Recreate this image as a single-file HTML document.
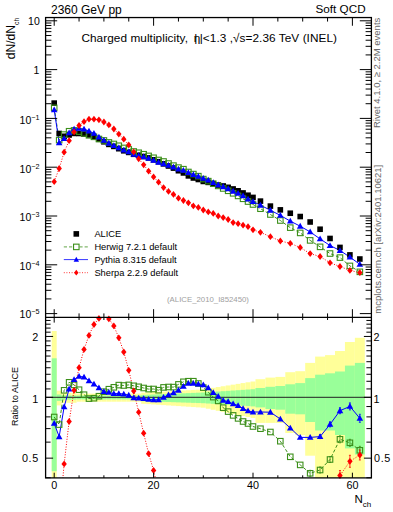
<!DOCTYPE html><html><head><meta charset="utf-8"><style>html,body{margin:0;padding:0;background:#fff;}svg{display:block;}text{font-family:"Liberation Sans",sans-serif;}</style></head><body>
<svg width="393" height="512" viewBox="0 0 393 512">
<defs><clipPath id="cm"><rect x="45.6" y="17.55" width="325.79999999999995" height="299.84999999999997"/></clipPath><clipPath id="cr"><rect x="45.6" y="317.4" width="325.79999999999995" height="160.5"/></clipPath></defs>
<g clip-path="url(#cr)">
<rect x="51.72" y="331.00" width="4.97" height="159.00" fill="#ffff99"/>
<rect x="56.69" y="390.70" width="4.97" height="14.70" fill="#ffff99"/>
<rect x="61.66" y="392.90" width="4.97" height="9.90" fill="#ffff99"/>
<rect x="66.62" y="392.90" width="4.97" height="9.90" fill="#ffff99"/>
<rect x="71.59" y="392.90" width="4.97" height="9.90" fill="#ffff99"/>
<rect x="76.56" y="393.60" width="4.97" height="8.10" fill="#ffff99"/>
<rect x="81.53" y="393.60" width="4.97" height="8.10" fill="#ffff99"/>
<rect x="86.50" y="393.60" width="4.97" height="8.10" fill="#ffff99"/>
<rect x="91.47" y="393.60" width="4.97" height="8.10" fill="#ffff99"/>
<rect x="96.44" y="393.60" width="4.97" height="8.10" fill="#ffff99"/>
<rect x="101.41" y="393.60" width="4.97" height="8.10" fill="#ffff99"/>
<rect x="106.38" y="393.60" width="4.97" height="8.10" fill="#ffff99"/>
<rect x="111.35" y="393.60" width="4.97" height="8.10" fill="#ffff99"/>
<rect x="116.33" y="393.60" width="4.97" height="8.10" fill="#ffff99"/>
<rect x="121.30" y="393.60" width="4.97" height="8.10" fill="#ffff99"/>
<rect x="126.27" y="393.60" width="4.97" height="8.10" fill="#ffff99"/>
<rect x="131.24" y="393.60" width="4.97" height="8.10" fill="#ffff99"/>
<rect x="136.20" y="393.60" width="4.97" height="8.10" fill="#ffff99"/>
<rect x="141.18" y="392.60" width="4.97" height="11.20" fill="#ffff99"/>
<rect x="146.14" y="392.33" width="4.97" height="11.79" fill="#ffff99"/>
<rect x="151.12" y="392.07" width="4.97" height="12.38" fill="#ffff99"/>
<rect x="156.08" y="391.80" width="4.97" height="12.97" fill="#ffff99"/>
<rect x="161.06" y="391.53" width="4.97" height="13.57" fill="#ffff99"/>
<rect x="166.02" y="391.27" width="4.97" height="14.16" fill="#ffff99"/>
<rect x="171.00" y="391.00" width="4.97" height="14.75" fill="#ffff99"/>
<rect x="175.97" y="390.73" width="4.97" height="15.34" fill="#ffff99"/>
<rect x="180.94" y="390.47" width="4.97" height="15.93" fill="#ffff99"/>
<rect x="185.90" y="390.20" width="4.97" height="16.53" fill="#ffff99"/>
<rect x="190.88" y="389.93" width="4.97" height="17.12" fill="#ffff99"/>
<rect x="195.84" y="389.67" width="4.97" height="17.71" fill="#ffff99"/>
<rect x="200.81" y="389.40" width="4.97" height="18.30" fill="#ffff99"/>
<rect x="205.78" y="388.61" width="4.97" height="20.12" fill="#ffff99"/>
<rect x="210.75" y="387.82" width="4.97" height="21.94" fill="#ffff99"/>
<rect x="215.73" y="387.03" width="4.97" height="23.76" fill="#ffff99"/>
<rect x="220.69" y="386.24" width="4.97" height="25.58" fill="#ffff99"/>
<rect x="225.67" y="385.45" width="4.97" height="27.40" fill="#ffff99"/>
<rect x="230.63" y="384.66" width="4.97" height="29.22" fill="#ffff99"/>
<rect x="235.61" y="383.87" width="4.97" height="31.04" fill="#ffff99"/>
<rect x="240.57" y="383.08" width="4.97" height="32.86" fill="#ffff99"/>
<rect x="245.55" y="382.29" width="4.97" height="34.68" fill="#ffff99"/>
<rect x="250.51" y="381.50" width="4.97" height="36.50" fill="#ffff99"/>
<rect x="255.49" y="379.20" width="9.94" height="43.70" fill="#ffff99"/>
<rect x="265.43" y="377.60" width="9.94" height="45.30" fill="#ffff99"/>
<rect x="275.37" y="376.90" width="9.94" height="46.10" fill="#ffff99"/>
<rect x="285.31" y="372.20" width="9.94" height="60.80" fill="#ffff99"/>
<rect x="295.25" y="371.20" width="9.94" height="63.90" fill="#ffff99"/>
<rect x="305.19" y="362.90" width="9.94" height="92.80" fill="#ffff99"/>
<rect x="315.12" y="356.60" width="9.94" height="133.40" fill="#ffff99"/>
<rect x="325.06" y="355.10" width="9.94" height="134.90" fill="#ffff99"/>
<rect x="335.00" y="351.00" width="9.94" height="139.00" fill="#ffff99"/>
<rect x="344.94" y="342.00" width="9.94" height="148.00" fill="#ffff99"/>
<rect x="354.88" y="337.80" width="9.94" height="152.20" fill="#ffff99"/>
<rect x="51.72" y="358.30" width="4.97" height="112.90" fill="#99ff99"/>
<rect x="56.69" y="394.50" width="4.97" height="6.40" fill="#99ff99"/>
<rect x="61.66" y="395.40" width="4.97" height="4.20" fill="#99ff99"/>
<rect x="66.62" y="395.40" width="4.97" height="4.20" fill="#99ff99"/>
<rect x="71.59" y="395.40" width="4.97" height="4.20" fill="#99ff99"/>
<rect x="76.56" y="395.50" width="4.97" height="3.90" fill="#99ff99"/>
<rect x="81.53" y="395.50" width="4.97" height="3.90" fill="#99ff99"/>
<rect x="86.50" y="395.50" width="4.97" height="3.90" fill="#99ff99"/>
<rect x="91.47" y="395.50" width="4.97" height="3.90" fill="#99ff99"/>
<rect x="96.44" y="395.50" width="4.97" height="3.90" fill="#99ff99"/>
<rect x="101.41" y="395.50" width="4.97" height="3.90" fill="#99ff99"/>
<rect x="106.38" y="395.50" width="4.97" height="3.90" fill="#99ff99"/>
<rect x="111.35" y="395.50" width="4.97" height="3.90" fill="#99ff99"/>
<rect x="116.33" y="395.50" width="4.97" height="3.90" fill="#99ff99"/>
<rect x="121.30" y="395.50" width="4.97" height="3.90" fill="#99ff99"/>
<rect x="126.27" y="395.50" width="4.97" height="3.90" fill="#99ff99"/>
<rect x="131.24" y="395.50" width="4.97" height="3.90" fill="#99ff99"/>
<rect x="136.20" y="395.50" width="4.97" height="3.90" fill="#99ff99"/>
<rect x="141.18" y="394.90" width="4.97" height="6.30" fill="#99ff99"/>
<rect x="146.14" y="394.70" width="4.97" height="6.67" fill="#99ff99"/>
<rect x="151.12" y="394.50" width="4.97" height="7.03" fill="#99ff99"/>
<rect x="156.08" y="394.30" width="4.97" height="7.40" fill="#99ff99"/>
<rect x="161.06" y="394.10" width="4.97" height="7.77" fill="#99ff99"/>
<rect x="166.02" y="393.90" width="4.97" height="8.13" fill="#99ff99"/>
<rect x="171.00" y="393.70" width="4.97" height="8.50" fill="#99ff99"/>
<rect x="175.97" y="393.50" width="4.97" height="8.87" fill="#99ff99"/>
<rect x="180.94" y="393.30" width="4.97" height="9.23" fill="#99ff99"/>
<rect x="185.90" y="393.10" width="4.97" height="9.60" fill="#99ff99"/>
<rect x="190.88" y="392.90" width="4.97" height="9.97" fill="#99ff99"/>
<rect x="195.84" y="392.70" width="4.97" height="10.33" fill="#99ff99"/>
<rect x="200.81" y="392.50" width="4.97" height="10.70" fill="#99ff99"/>
<rect x="205.78" y="392.17" width="4.97" height="11.35" fill="#99ff99"/>
<rect x="210.75" y="391.84" width="4.97" height="12.00" fill="#99ff99"/>
<rect x="215.73" y="391.51" width="4.97" height="12.65" fill="#99ff99"/>
<rect x="220.69" y="391.18" width="4.97" height="13.30" fill="#99ff99"/>
<rect x="225.67" y="390.85" width="4.97" height="13.95" fill="#99ff99"/>
<rect x="230.63" y="390.52" width="4.97" height="14.60" fill="#99ff99"/>
<rect x="235.61" y="390.19" width="4.97" height="15.25" fill="#99ff99"/>
<rect x="240.57" y="389.86" width="4.97" height="15.90" fill="#99ff99"/>
<rect x="245.55" y="389.53" width="4.97" height="16.55" fill="#99ff99"/>
<rect x="250.51" y="389.20" width="4.97" height="17.20" fill="#99ff99"/>
<rect x="255.49" y="388.00" width="9.94" height="19.40" fill="#99ff99"/>
<rect x="265.43" y="386.80" width="9.94" height="22.20" fill="#99ff99"/>
<rect x="275.37" y="386.00" width="9.94" height="23.70" fill="#99ff99"/>
<rect x="285.31" y="384.30" width="9.94" height="29.40" fill="#99ff99"/>
<rect x="295.25" y="383.10" width="9.94" height="31.20" fill="#99ff99"/>
<rect x="305.19" y="378.10" width="9.94" height="43.90" fill="#99ff99"/>
<rect x="315.12" y="374.70" width="9.94" height="55.80" fill="#99ff99"/>
<rect x="325.06" y="373.30" width="9.94" height="57.20" fill="#99ff99"/>
<rect x="335.00" y="371.50" width="9.94" height="63.50" fill="#99ff99"/>
<rect x="344.94" y="365.60" width="9.94" height="82.80" fill="#99ff99"/>
<rect x="354.88" y="362.90" width="9.94" height="91.60" fill="#99ff99"/>
<line x1="45.6" y1="397.3" x2="371.4" y2="397.3" stroke="#222" stroke-width="1"/>
<polyline points="54.20,423.40 59.17,436.70 64.14,406.90 69.11,389.10 74.08,379.50 79.05,376.40 84.02,377.00 88.99,380.80 93.96,384.00 98.93,387.90 103.90,391.50 108.87,392.40 113.84,393.60 118.81,393.60 123.78,394.00 128.75,395.20 133.72,397.80 138.69,398.10 143.66,398.60 148.63,399.40 153.60,399.80 158.57,399.80 163.54,397.40 168.51,394.80 173.48,392.80 178.45,390.20 183.42,386.40 188.39,383.30 193.36,383.30 198.33,384.10 203.30,384.80 208.27,387.90 213.24,392.50 218.21,396.30 223.18,400.40 228.15,401.60 233.12,403.90 238.09,405.50 243.06,408.50 248.03,410.80 253.00,412.00 260.45,412.00 270.39,412.20 280.33,419.00 290.27,428.00 300.21,437.40 310.15,437.40 320.09,436.60 330.03,424.40 339.97,410.70 349.91,406.40 359.85,418.30" fill="none" stroke="#0000ff" stroke-width="1.0"/>
<polyline points="59.17,520.00 64.14,463.90 69.11,421.50 74.08,390.30 79.05,367.70 84.02,349.40 88.99,335.40 93.96,324.50 98.93,318.40 103.90,311.00 108.87,318.90 113.84,325.90 118.81,337.80 123.78,352.00 128.75,370.30 133.72,391.00 138.69,412.20 143.66,433.20 148.63,453.70 153.60,470.40 158.57,492.00" fill="none" stroke="#ff0000" stroke-width="1.0" stroke-dasharray="1,1.6"/>
<polyline points="320.09,520.00 339.97,475.50 349.91,461.30 359.85,455.00" fill="none" stroke="#ff0000" stroke-width="1.0" stroke-dasharray="1,1.6"/>
<polyline points="54.20,417.00 59.17,424.60 64.14,390.30 69.11,382.30 74.08,384.90 79.05,389.70 84.02,394.70 88.99,398.60 93.96,398.20 98.93,396.20 103.90,391.70 108.87,389.20 113.84,387.30 118.81,385.10 123.78,385.50 128.75,384.90 133.72,385.80 138.69,386.80 143.66,388.00 148.63,389.10 153.60,389.00 158.57,390.20 163.54,387.40 168.51,387.00 173.48,387.10 178.45,384.40 183.42,381.80 188.39,381.20 193.36,381.20 198.33,383.50 203.30,387.60 208.27,392.20 213.24,397.10 218.21,400.90 223.18,407.70 228.15,411.60 233.12,415.40 238.09,418.40 243.06,421.50 248.03,423.50 253.00,426.50 260.45,428.70 270.39,432.00 280.33,441.20 290.27,456.80 300.21,464.90 310.15,473.30 320.09,470.00 330.03,459.50 339.97,439.30 349.91,442.80 359.85,450.30" fill="none" stroke="#3c8f1a" stroke-width="1.0" stroke-dasharray="3.2,2.0"/>
<path d="M310.15,470.30V476.30M309.15,470.30h2M309.15,476.30h2" stroke="#3c8f1a" stroke-width="0.8" fill="none"/>
<path d="M320.09,467.00V473.00M319.09,467.00h2M319.09,473.00h2" stroke="#3c8f1a" stroke-width="0.8" fill="none"/>
<path d="M320.09,434.60V438.60M319.09,434.60h2M319.09,438.60h2" stroke="#0000ff" stroke-width="0.8" fill="none"/>
<path d="M330.03,456.50V462.50M329.03,456.50h2M329.03,462.50h2" stroke="#3c8f1a" stroke-width="0.8" fill="none"/>
<path d="M330.03,421.90V426.90M329.03,421.90h2M329.03,426.90h2" stroke="#0000ff" stroke-width="0.8" fill="none"/>
<path d="M339.97,435.80V442.80M338.97,435.80h2M338.97,442.80h2" stroke="#3c8f1a" stroke-width="0.8" fill="none"/>
<path d="M339.97,407.70V413.70M338.97,407.70h2M338.97,413.70h2" stroke="#0000ff" stroke-width="0.8" fill="none"/>
<path d="M339.97,470.50V480.50M338.97,470.50h2M338.97,480.50h2" stroke="#ff0000" stroke-width="0.8" fill="none"/>
<path d="M349.91,439.30V446.30M348.91,439.30h2M348.91,446.30h2" stroke="#3c8f1a" stroke-width="0.8" fill="none"/>
<path d="M349.91,402.90V409.90M348.91,402.90h2M348.91,409.90h2" stroke="#0000ff" stroke-width="0.8" fill="none"/>
<path d="M349.91,455.30V467.30M348.91,455.30h2M348.91,467.30h2" stroke="#ff0000" stroke-width="0.8" fill="none"/>
<path d="M359.85,446.30V454.30M358.85,446.30h2M358.85,454.30h2" stroke="#3c8f1a" stroke-width="0.8" fill="none"/>
<path d="M359.85,414.30V422.30M358.85,414.30h2M358.85,422.30h2" stroke="#0000ff" stroke-width="0.8" fill="none"/>
<path d="M359.85,450.00V460.00M358.85,450.00h2M358.85,460.00h2" stroke="#ff0000" stroke-width="0.8" fill="none"/>
</g>
<rect x="51.45" y="414.25" width="5.5" height="5.5" fill="none" stroke="#3c8f1a" stroke-width="1.1"/>
<rect x="56.42" y="421.85" width="5.5" height="5.5" fill="none" stroke="#3c8f1a" stroke-width="1.1"/>
<rect x="61.39" y="387.55" width="5.5" height="5.5" fill="none" stroke="#3c8f1a" stroke-width="1.1"/>
<rect x="66.36" y="379.55" width="5.5" height="5.5" fill="none" stroke="#3c8f1a" stroke-width="1.1"/>
<rect x="71.33" y="382.15" width="5.5" height="5.5" fill="none" stroke="#3c8f1a" stroke-width="1.1"/>
<rect x="76.30" y="386.95" width="5.5" height="5.5" fill="none" stroke="#3c8f1a" stroke-width="1.1"/>
<rect x="81.27" y="391.95" width="5.5" height="5.5" fill="none" stroke="#3c8f1a" stroke-width="1.1"/>
<rect x="86.24" y="395.85" width="5.5" height="5.5" fill="none" stroke="#3c8f1a" stroke-width="1.1"/>
<rect x="91.21" y="395.45" width="5.5" height="5.5" fill="none" stroke="#3c8f1a" stroke-width="1.1"/>
<rect x="96.18" y="393.45" width="5.5" height="5.5" fill="none" stroke="#3c8f1a" stroke-width="1.1"/>
<rect x="101.15" y="388.95" width="5.5" height="5.5" fill="none" stroke="#3c8f1a" stroke-width="1.1"/>
<rect x="106.12" y="386.45" width="5.5" height="5.5" fill="none" stroke="#3c8f1a" stroke-width="1.1"/>
<rect x="111.09" y="384.55" width="5.5" height="5.5" fill="none" stroke="#3c8f1a" stroke-width="1.1"/>
<rect x="116.06" y="382.35" width="5.5" height="5.5" fill="none" stroke="#3c8f1a" stroke-width="1.1"/>
<rect x="121.03" y="382.75" width="5.5" height="5.5" fill="none" stroke="#3c8f1a" stroke-width="1.1"/>
<rect x="126.00" y="382.15" width="5.5" height="5.5" fill="none" stroke="#3c8f1a" stroke-width="1.1"/>
<rect x="130.97" y="383.05" width="5.5" height="5.5" fill="none" stroke="#3c8f1a" stroke-width="1.1"/>
<rect x="135.94" y="384.05" width="5.5" height="5.5" fill="none" stroke="#3c8f1a" stroke-width="1.1"/>
<rect x="140.91" y="385.25" width="5.5" height="5.5" fill="none" stroke="#3c8f1a" stroke-width="1.1"/>
<rect x="145.88" y="386.35" width="5.5" height="5.5" fill="none" stroke="#3c8f1a" stroke-width="1.1"/>
<rect x="150.85" y="386.25" width="5.5" height="5.5" fill="none" stroke="#3c8f1a" stroke-width="1.1"/>
<rect x="155.82" y="387.45" width="5.5" height="5.5" fill="none" stroke="#3c8f1a" stroke-width="1.1"/>
<rect x="160.79" y="384.65" width="5.5" height="5.5" fill="none" stroke="#3c8f1a" stroke-width="1.1"/>
<rect x="165.76" y="384.25" width="5.5" height="5.5" fill="none" stroke="#3c8f1a" stroke-width="1.1"/>
<rect x="170.73" y="384.35" width="5.5" height="5.5" fill="none" stroke="#3c8f1a" stroke-width="1.1"/>
<rect x="175.70" y="381.65" width="5.5" height="5.5" fill="none" stroke="#3c8f1a" stroke-width="1.1"/>
<rect x="180.67" y="379.05" width="5.5" height="5.5" fill="none" stroke="#3c8f1a" stroke-width="1.1"/>
<rect x="185.64" y="378.45" width="5.5" height="5.5" fill="none" stroke="#3c8f1a" stroke-width="1.1"/>
<rect x="190.61" y="378.45" width="5.5" height="5.5" fill="none" stroke="#3c8f1a" stroke-width="1.1"/>
<rect x="195.58" y="380.75" width="5.5" height="5.5" fill="none" stroke="#3c8f1a" stroke-width="1.1"/>
<rect x="200.55" y="384.85" width="5.5" height="5.5" fill="none" stroke="#3c8f1a" stroke-width="1.1"/>
<rect x="205.52" y="389.45" width="5.5" height="5.5" fill="none" stroke="#3c8f1a" stroke-width="1.1"/>
<rect x="210.49" y="394.35" width="5.5" height="5.5" fill="none" stroke="#3c8f1a" stroke-width="1.1"/>
<rect x="215.46" y="398.15" width="5.5" height="5.5" fill="none" stroke="#3c8f1a" stroke-width="1.1"/>
<rect x="220.43" y="404.95" width="5.5" height="5.5" fill="none" stroke="#3c8f1a" stroke-width="1.1"/>
<rect x="225.40" y="408.85" width="5.5" height="5.5" fill="none" stroke="#3c8f1a" stroke-width="1.1"/>
<rect x="230.37" y="412.65" width="5.5" height="5.5" fill="none" stroke="#3c8f1a" stroke-width="1.1"/>
<rect x="235.34" y="415.65" width="5.5" height="5.5" fill="none" stroke="#3c8f1a" stroke-width="1.1"/>
<rect x="240.31" y="418.75" width="5.5" height="5.5" fill="none" stroke="#3c8f1a" stroke-width="1.1"/>
<rect x="245.28" y="420.75" width="5.5" height="5.5" fill="none" stroke="#3c8f1a" stroke-width="1.1"/>
<rect x="250.25" y="423.75" width="5.5" height="5.5" fill="none" stroke="#3c8f1a" stroke-width="1.1"/>
<rect x="257.70" y="425.95" width="5.5" height="5.5" fill="none" stroke="#3c8f1a" stroke-width="1.1"/>
<rect x="267.64" y="429.25" width="5.5" height="5.5" fill="none" stroke="#3c8f1a" stroke-width="1.1"/>
<rect x="277.58" y="438.45" width="5.5" height="5.5" fill="none" stroke="#3c8f1a" stroke-width="1.1"/>
<rect x="287.52" y="454.05" width="5.5" height="5.5" fill="none" stroke="#3c8f1a" stroke-width="1.1"/>
<rect x="297.46" y="462.15" width="5.5" height="5.5" fill="none" stroke="#3c8f1a" stroke-width="1.1"/>
<rect x="307.40" y="470.55" width="5.5" height="5.5" fill="none" stroke="#3c8f1a" stroke-width="1.1"/>
<rect x="317.34" y="467.25" width="5.5" height="5.5" fill="none" stroke="#3c8f1a" stroke-width="1.1"/>
<rect x="327.28" y="456.75" width="5.5" height="5.5" fill="none" stroke="#3c8f1a" stroke-width="1.1"/>
<rect x="337.22" y="436.55" width="5.5" height="5.5" fill="none" stroke="#3c8f1a" stroke-width="1.1"/>
<rect x="347.16" y="440.05" width="5.5" height="5.5" fill="none" stroke="#3c8f1a" stroke-width="1.1"/>
<rect x="357.10" y="447.55" width="5.5" height="5.5" fill="none" stroke="#3c8f1a" stroke-width="1.1"/>
<path d="M50.90,425.84 L57.50,425.84 L54.20,420.04 Z" fill="#0000ff"/>
<path d="M55.87,439.14 L62.47,439.14 L59.17,433.34 Z" fill="#0000ff"/>
<path d="M60.84,409.34 L67.44,409.34 L64.14,403.54 Z" fill="#0000ff"/>
<path d="M65.81,391.54 L72.41,391.54 L69.11,385.74 Z" fill="#0000ff"/>
<path d="M70.78,381.94 L77.38,381.94 L74.08,376.14 Z" fill="#0000ff"/>
<path d="M75.75,378.84 L82.35,378.84 L79.05,373.04 Z" fill="#0000ff"/>
<path d="M80.72,379.44 L87.32,379.44 L84.02,373.64 Z" fill="#0000ff"/>
<path d="M85.69,383.24 L92.29,383.24 L88.99,377.44 Z" fill="#0000ff"/>
<path d="M90.66,386.44 L97.26,386.44 L93.96,380.64 Z" fill="#0000ff"/>
<path d="M95.63,390.34 L102.23,390.34 L98.93,384.54 Z" fill="#0000ff"/>
<path d="M100.60,393.94 L107.20,393.94 L103.90,388.14 Z" fill="#0000ff"/>
<path d="M105.57,394.84 L112.17,394.84 L108.87,389.04 Z" fill="#0000ff"/>
<path d="M110.54,396.04 L117.14,396.04 L113.84,390.24 Z" fill="#0000ff"/>
<path d="M115.51,396.04 L122.11,396.04 L118.81,390.24 Z" fill="#0000ff"/>
<path d="M120.48,396.44 L127.08,396.44 L123.78,390.64 Z" fill="#0000ff"/>
<path d="M125.45,397.64 L132.05,397.64 L128.75,391.84 Z" fill="#0000ff"/>
<path d="M130.42,400.24 L137.02,400.24 L133.72,394.44 Z" fill="#0000ff"/>
<path d="M135.39,400.54 L141.99,400.54 L138.69,394.74 Z" fill="#0000ff"/>
<path d="M140.36,401.04 L146.96,401.04 L143.66,395.24 Z" fill="#0000ff"/>
<path d="M145.33,401.84 L151.93,401.84 L148.63,396.04 Z" fill="#0000ff"/>
<path d="M150.30,402.24 L156.90,402.24 L153.60,396.44 Z" fill="#0000ff"/>
<path d="M155.27,402.24 L161.87,402.24 L158.57,396.44 Z" fill="#0000ff"/>
<path d="M160.24,399.84 L166.84,399.84 L163.54,394.04 Z" fill="#0000ff"/>
<path d="M165.21,397.24 L171.81,397.24 L168.51,391.44 Z" fill="#0000ff"/>
<path d="M170.18,395.24 L176.78,395.24 L173.48,389.44 Z" fill="#0000ff"/>
<path d="M175.15,392.64 L181.75,392.64 L178.45,386.84 Z" fill="#0000ff"/>
<path d="M180.12,388.84 L186.72,388.84 L183.42,383.04 Z" fill="#0000ff"/>
<path d="M185.09,385.74 L191.69,385.74 L188.39,379.94 Z" fill="#0000ff"/>
<path d="M190.06,385.74 L196.66,385.74 L193.36,379.94 Z" fill="#0000ff"/>
<path d="M195.03,386.54 L201.63,386.54 L198.33,380.74 Z" fill="#0000ff"/>
<path d="M200.00,387.24 L206.60,387.24 L203.30,381.44 Z" fill="#0000ff"/>
<path d="M204.97,390.34 L211.57,390.34 L208.27,384.54 Z" fill="#0000ff"/>
<path d="M209.94,394.94 L216.54,394.94 L213.24,389.14 Z" fill="#0000ff"/>
<path d="M214.91,398.74 L221.51,398.74 L218.21,392.94 Z" fill="#0000ff"/>
<path d="M219.88,402.84 L226.48,402.84 L223.18,397.04 Z" fill="#0000ff"/>
<path d="M224.85,404.04 L231.45,404.04 L228.15,398.24 Z" fill="#0000ff"/>
<path d="M229.82,406.34 L236.42,406.34 L233.12,400.54 Z" fill="#0000ff"/>
<path d="M234.79,407.94 L241.39,407.94 L238.09,402.14 Z" fill="#0000ff"/>
<path d="M239.76,410.94 L246.36,410.94 L243.06,405.14 Z" fill="#0000ff"/>
<path d="M244.73,413.24 L251.33,413.24 L248.03,407.44 Z" fill="#0000ff"/>
<path d="M249.70,414.44 L256.30,414.44 L253.00,408.64 Z" fill="#0000ff"/>
<path d="M257.15,414.44 L263.75,414.44 L260.45,408.64 Z" fill="#0000ff"/>
<path d="M267.09,414.64 L273.69,414.64 L270.39,408.84 Z" fill="#0000ff"/>
<path d="M277.03,421.44 L283.63,421.44 L280.33,415.64 Z" fill="#0000ff"/>
<path d="M286.97,430.44 L293.57,430.44 L290.27,424.64 Z" fill="#0000ff"/>
<path d="M296.91,439.84 L303.51,439.84 L300.21,434.04 Z" fill="#0000ff"/>
<path d="M306.85,439.84 L313.45,439.84 L310.15,434.04 Z" fill="#0000ff"/>
<path d="M316.79,439.04 L323.39,439.04 L320.09,433.24 Z" fill="#0000ff"/>
<path d="M326.73,426.84 L333.33,426.84 L330.03,421.04 Z" fill="#0000ff"/>
<path d="M336.67,413.14 L343.27,413.14 L339.97,407.34 Z" fill="#0000ff"/>
<path d="M346.61,408.84 L353.21,408.84 L349.91,403.04 Z" fill="#0000ff"/>
<path d="M356.55,420.74 L363.15,420.74 L359.85,414.94 Z" fill="#0000ff"/>
<path d="M64.14,460.50 L66.84,463.90 L64.14,467.30 L61.44,463.90 Z" fill="#ff0000"/>
<path d="M69.11,418.10 L71.81,421.50 L69.11,424.90 L66.41,421.50 Z" fill="#ff0000"/>
<path d="M74.08,386.90 L76.78,390.30 L74.08,393.70 L71.38,390.30 Z" fill="#ff0000"/>
<path d="M79.05,364.30 L81.75,367.70 L79.05,371.10 L76.35,367.70 Z" fill="#ff0000"/>
<path d="M84.02,346.00 L86.72,349.40 L84.02,352.80 L81.32,349.40 Z" fill="#ff0000"/>
<path d="M88.99,332.00 L91.69,335.40 L88.99,338.80 L86.29,335.40 Z" fill="#ff0000"/>
<path d="M93.96,321.10 L96.66,324.50 L93.96,327.90 L91.26,324.50 Z" fill="#ff0000"/>
<path d="M98.93,315.00 L101.63,318.40 L98.93,321.80 L96.23,318.40 Z" fill="#ff0000"/>
<path d="M108.87,315.50 L111.57,318.90 L108.87,322.30 L106.17,318.90 Z" fill="#ff0000"/>
<path d="M113.84,322.50 L116.54,325.90 L113.84,329.30 L111.14,325.90 Z" fill="#ff0000"/>
<path d="M118.81,334.40 L121.51,337.80 L118.81,341.20 L116.11,337.80 Z" fill="#ff0000"/>
<path d="M123.78,348.60 L126.48,352.00 L123.78,355.40 L121.08,352.00 Z" fill="#ff0000"/>
<path d="M128.75,366.90 L131.45,370.30 L128.75,373.70 L126.05,370.30 Z" fill="#ff0000"/>
<path d="M133.72,387.60 L136.42,391.00 L133.72,394.40 L131.02,391.00 Z" fill="#ff0000"/>
<path d="M138.69,408.80 L141.39,412.20 L138.69,415.60 L135.99,412.20 Z" fill="#ff0000"/>
<path d="M143.66,429.80 L146.36,433.20 L143.66,436.60 L140.96,433.20 Z" fill="#ff0000"/>
<path d="M148.63,450.30 L151.33,453.70 L148.63,457.10 L145.93,453.70 Z" fill="#ff0000"/>
<path d="M153.60,467.00 L156.30,470.40 L153.60,473.80 L150.90,470.40 Z" fill="#ff0000"/>
<path d="M339.97,472.10 L342.67,475.50 L339.97,478.90 L337.27,475.50 Z" fill="#ff0000"/>
<path d="M349.91,457.90 L352.61,461.30 L349.91,464.70 L347.21,461.30 Z" fill="#ff0000"/>
<path d="M359.85,451.60 L362.55,455.00 L359.85,458.40 L357.15,455.00 Z" fill="#ff0000"/>
<g clip-path="url(#cm)">
<polyline points="54.20,181.70 59.17,168.50 64.14,152.20 69.11,140.70 74.08,131.90 79.05,125.50 84.02,121.70 88.99,119.20 93.96,119.20 98.93,119.80 103.90,122.00 108.87,124.90 113.84,129.00 118.81,134.10 123.78,139.20 128.75,144.90 133.72,151.90 138.69,158.80 143.66,164.80 148.63,171.20 153.60,176.90 158.57,182.20 163.54,187.60 168.51,191.40 173.48,194.40 178.45,198.20 183.42,200.50 188.39,202.80 193.36,205.90 198.33,207.40 203.30,210.00 208.27,211.90 213.24,213.40 218.21,216.00 223.18,217.60 228.15,219.50 233.12,222.60 238.09,223.70 243.06,225.20 248.03,226.70 253.00,229.80 260.45,232.30 270.39,236.70 280.33,241.00 290.27,243.30 300.21,247.50 310.15,253.60 320.09,256.50 330.03,262.80 339.97,266.50 349.91,270.40 359.85,272.70" fill="none" stroke="#ff0000" stroke-width="1.0" stroke-dasharray="1,1.6"/>
<polyline points="54.20,107.87 59.17,140.11 64.14,134.58 69.11,131.25 74.08,130.41 79.05,131.62 84.02,133.39 88.99,135.31 93.96,136.84 98.93,139.01 103.90,140.45 108.87,142.43 113.84,143.97 118.81,145.74 123.78,147.94 128.75,149.41 133.72,151.49 138.69,152.76 143.66,154.23 148.63,155.91 153.60,157.78 158.57,159.98 163.54,161.48 168.51,163.51 173.48,165.62 178.45,167.60 183.42,169.19 188.39,171.99 193.36,174.09 198.33,176.15 203.30,179.08 208.27,181.14 213.24,183.71 218.21,185.91 223.18,188.47 228.15,190.79 233.12,193.33 238.09,195.92 243.06,198.80 248.03,201.56 253.00,204.49 260.45,208.72 270.39,214.50 280.33,220.50 290.27,227.64 300.21,232.91 310.15,240.40 320.09,246.85 330.03,253.53 339.97,257.60 349.91,265.92 359.85,271.84" fill="none" stroke="#3c8f1a" stroke-width="1.0" stroke-dasharray="3.2,2.0"/>
<polyline points="54.20,109.80 59.17,142.90 64.14,138.60 69.11,132.90 74.08,129.10 79.05,128.40 84.02,129.10 88.99,131.00 93.96,133.40 98.93,137.00 103.90,140.40 108.87,143.20 113.84,145.50 118.81,147.80 123.78,150.00 128.75,151.90 133.72,154.40 138.69,155.50 143.66,156.80 148.63,158.40 153.60,160.40 158.57,162.30 163.54,163.90 168.51,165.40 173.48,167.00 178.45,169.00 183.42,170.30 188.39,172.50 193.36,174.60 198.33,176.30 203.30,178.40 208.27,180.10 213.24,182.60 218.21,184.80 223.18,186.70 228.15,188.70 233.12,191.20 238.09,193.40 243.06,195.90 248.03,199.10 253.00,201.60 260.45,205.20 270.39,210.20 280.33,215.40 290.27,221.10 300.21,226.20 310.15,231.90 320.09,238.90 330.03,245.50 339.97,250.50 349.91,257.10 359.85,264.30" fill="none" stroke="#0000ff" stroke-width="1.0"/>
<rect x="51.40" y="100.30" width="5.6" height="5.6" fill="#000"/>
<rect x="56.37" y="130.70" width="5.6" height="5.6" fill="#000"/>
<rect x="61.34" y="133.48" width="5.6" height="5.6" fill="#000"/>
<rect x="66.31" y="132.09" width="5.6" height="5.6" fill="#000"/>
<rect x="71.28" y="130.61" width="5.6" height="5.6" fill="#000"/>
<rect x="76.25" y="130.66" width="5.6" height="5.6" fill="#000"/>
<rect x="81.22" y="131.22" width="5.6" height="5.6" fill="#000"/>
<rect x="86.19" y="132.20" width="5.6" height="5.6" fill="#000"/>
<rect x="91.16" y="133.82" width="5.6" height="5.6" fill="#000"/>
<rect x="96.13" y="136.48" width="5.6" height="5.6" fill="#000"/>
<rect x="101.10" y="139.00" width="5.6" height="5.6" fill="#000"/>
<rect x="106.07" y="141.59" width="5.6" height="5.6" fill="#000"/>
<rect x="111.04" y="143.60" width="5.6" height="5.6" fill="#000"/>
<rect x="116.01" y="145.90" width="5.6" height="5.6" fill="#000"/>
<rect x="120.98" y="148.00" width="5.6" height="5.6" fill="#000"/>
<rect x="125.95" y="149.61" width="5.6" height="5.6" fill="#000"/>
<rect x="130.92" y="151.48" width="5.6" height="5.6" fill="#000"/>
<rect x="135.89" y="152.51" width="5.6" height="5.6" fill="#000"/>
<rect x="140.86" y="153.69" width="5.6" height="5.6" fill="#000"/>
<rect x="145.83" y="155.09" width="5.6" height="5.6" fill="#000"/>
<rect x="150.80" y="156.99" width="5.6" height="5.6" fill="#000"/>
<rect x="155.77" y="158.89" width="5.6" height="5.6" fill="#000"/>
<rect x="160.74" y="161.08" width="5.6" height="5.6" fill="#000"/>
<rect x="165.71" y="163.21" width="5.6" height="5.6" fill="#000"/>
<rect x="170.68" y="165.29" width="5.6" height="5.6" fill="#000"/>
<rect x="175.65" y="167.92" width="5.6" height="5.6" fill="#000"/>
<rect x="180.62" y="170.14" width="5.6" height="5.6" fill="#000"/>
<rect x="185.59" y="173.09" width="5.6" height="5.6" fill="#000"/>
<rect x="190.56" y="175.19" width="5.6" height="5.6" fill="#000"/>
<rect x="195.53" y="176.70" width="5.6" height="5.6" fill="#000"/>
<rect x="200.50" y="178.63" width="5.6" height="5.6" fill="#000"/>
<rect x="205.47" y="179.58" width="5.6" height="5.6" fill="#000"/>
<rect x="210.44" y="180.96" width="5.6" height="5.6" fill="#000"/>
<rect x="215.41" y="182.24" width="5.6" height="5.6" fill="#000"/>
<rect x="220.38" y="183.15" width="5.6" height="5.6" fill="#000"/>
<rect x="225.35" y="184.53" width="5.6" height="5.6" fill="#000"/>
<rect x="230.32" y="186.15" width="5.6" height="5.6" fill="#000"/>
<rect x="235.29" y="188.01" width="5.6" height="5.6" fill="#000"/>
<rect x="240.26" y="190.14" width="5.6" height="5.6" fill="#000"/>
<rect x="245.23" y="192.42" width="5.6" height="5.6" fill="#000"/>
<rect x="250.20" y="194.62" width="5.6" height="5.6" fill="#000"/>
<rect x="257.65" y="198.32" width="5.6" height="5.6" fill="#000"/>
<rect x="267.59" y="203.30" width="5.6" height="5.6" fill="#000"/>
<rect x="277.53" y="207.07" width="5.6" height="5.6" fill="#000"/>
<rect x="287.47" y="210.43" width="5.6" height="5.6" fill="#000"/>
<rect x="297.41" y="213.74" width="5.6" height="5.6" fill="#000"/>
<rect x="307.35" y="219.19" width="5.6" height="5.6" fill="#000"/>
<rect x="317.29" y="226.44" width="5.6" height="5.6" fill="#000"/>
<rect x="327.23" y="235.67" width="5.6" height="5.6" fill="#000"/>
<rect x="337.17" y="244.63" width="5.6" height="5.6" fill="#000"/>
<rect x="347.11" y="252.10" width="5.6" height="5.6" fill="#000"/>
<rect x="357.05" y="256.21" width="5.6" height="5.6" fill="#000"/>
<rect x="51.45" y="105.12" width="5.5" height="5.5" fill="none" stroke="#3c8f1a" stroke-width="1.1"/>
<rect x="56.42" y="137.36" width="5.5" height="5.5" fill="none" stroke="#3c8f1a" stroke-width="1.1"/>
<rect x="61.39" y="131.83" width="5.5" height="5.5" fill="none" stroke="#3c8f1a" stroke-width="1.1"/>
<rect x="66.36" y="128.50" width="5.5" height="5.5" fill="none" stroke="#3c8f1a" stroke-width="1.1"/>
<rect x="71.33" y="127.66" width="5.5" height="5.5" fill="none" stroke="#3c8f1a" stroke-width="1.1"/>
<rect x="76.30" y="128.87" width="5.5" height="5.5" fill="none" stroke="#3c8f1a" stroke-width="1.1"/>
<rect x="81.27" y="130.64" width="5.5" height="5.5" fill="none" stroke="#3c8f1a" stroke-width="1.1"/>
<rect x="86.24" y="132.56" width="5.5" height="5.5" fill="none" stroke="#3c8f1a" stroke-width="1.1"/>
<rect x="91.21" y="134.09" width="5.5" height="5.5" fill="none" stroke="#3c8f1a" stroke-width="1.1"/>
<rect x="96.18" y="136.26" width="5.5" height="5.5" fill="none" stroke="#3c8f1a" stroke-width="1.1"/>
<rect x="101.15" y="137.70" width="5.5" height="5.5" fill="none" stroke="#3c8f1a" stroke-width="1.1"/>
<rect x="106.12" y="139.68" width="5.5" height="5.5" fill="none" stroke="#3c8f1a" stroke-width="1.1"/>
<rect x="111.09" y="141.22" width="5.5" height="5.5" fill="none" stroke="#3c8f1a" stroke-width="1.1"/>
<rect x="116.06" y="142.99" width="5.5" height="5.5" fill="none" stroke="#3c8f1a" stroke-width="1.1"/>
<rect x="121.03" y="145.19" width="5.5" height="5.5" fill="none" stroke="#3c8f1a" stroke-width="1.1"/>
<rect x="126.00" y="146.66" width="5.5" height="5.5" fill="none" stroke="#3c8f1a" stroke-width="1.1"/>
<rect x="130.97" y="148.74" width="5.5" height="5.5" fill="none" stroke="#3c8f1a" stroke-width="1.1"/>
<rect x="135.94" y="150.01" width="5.5" height="5.5" fill="none" stroke="#3c8f1a" stroke-width="1.1"/>
<rect x="140.91" y="151.48" width="5.5" height="5.5" fill="none" stroke="#3c8f1a" stroke-width="1.1"/>
<rect x="145.88" y="153.16" width="5.5" height="5.5" fill="none" stroke="#3c8f1a" stroke-width="1.1"/>
<rect x="150.85" y="155.03" width="5.5" height="5.5" fill="none" stroke="#3c8f1a" stroke-width="1.1"/>
<rect x="155.82" y="157.23" width="5.5" height="5.5" fill="none" stroke="#3c8f1a" stroke-width="1.1"/>
<rect x="160.79" y="158.73" width="5.5" height="5.5" fill="none" stroke="#3c8f1a" stroke-width="1.1"/>
<rect x="165.76" y="160.76" width="5.5" height="5.5" fill="none" stroke="#3c8f1a" stroke-width="1.1"/>
<rect x="170.73" y="162.87" width="5.5" height="5.5" fill="none" stroke="#3c8f1a" stroke-width="1.1"/>
<rect x="175.70" y="164.85" width="5.5" height="5.5" fill="none" stroke="#3c8f1a" stroke-width="1.1"/>
<rect x="180.67" y="166.44" width="5.5" height="5.5" fill="none" stroke="#3c8f1a" stroke-width="1.1"/>
<rect x="185.64" y="169.24" width="5.5" height="5.5" fill="none" stroke="#3c8f1a" stroke-width="1.1"/>
<rect x="190.61" y="171.34" width="5.5" height="5.5" fill="none" stroke="#3c8f1a" stroke-width="1.1"/>
<rect x="195.58" y="173.40" width="5.5" height="5.5" fill="none" stroke="#3c8f1a" stroke-width="1.1"/>
<rect x="200.55" y="176.33" width="5.5" height="5.5" fill="none" stroke="#3c8f1a" stroke-width="1.1"/>
<rect x="205.52" y="178.39" width="5.5" height="5.5" fill="none" stroke="#3c8f1a" stroke-width="1.1"/>
<rect x="210.49" y="180.96" width="5.5" height="5.5" fill="none" stroke="#3c8f1a" stroke-width="1.1"/>
<rect x="215.46" y="183.16" width="5.5" height="5.5" fill="none" stroke="#3c8f1a" stroke-width="1.1"/>
<rect x="220.43" y="185.72" width="5.5" height="5.5" fill="none" stroke="#3c8f1a" stroke-width="1.1"/>
<rect x="225.40" y="188.04" width="5.5" height="5.5" fill="none" stroke="#3c8f1a" stroke-width="1.1"/>
<rect x="230.37" y="190.58" width="5.5" height="5.5" fill="none" stroke="#3c8f1a" stroke-width="1.1"/>
<rect x="235.34" y="193.17" width="5.5" height="5.5" fill="none" stroke="#3c8f1a" stroke-width="1.1"/>
<rect x="240.31" y="196.05" width="5.5" height="5.5" fill="none" stroke="#3c8f1a" stroke-width="1.1"/>
<rect x="245.28" y="198.81" width="5.5" height="5.5" fill="none" stroke="#3c8f1a" stroke-width="1.1"/>
<rect x="250.25" y="201.74" width="5.5" height="5.5" fill="none" stroke="#3c8f1a" stroke-width="1.1"/>
<rect x="257.70" y="205.97" width="5.5" height="5.5" fill="none" stroke="#3c8f1a" stroke-width="1.1"/>
<rect x="267.64" y="211.75" width="5.5" height="5.5" fill="none" stroke="#3c8f1a" stroke-width="1.1"/>
<rect x="277.58" y="217.75" width="5.5" height="5.5" fill="none" stroke="#3c8f1a" stroke-width="1.1"/>
<rect x="287.52" y="224.89" width="5.5" height="5.5" fill="none" stroke="#3c8f1a" stroke-width="1.1"/>
<rect x="297.46" y="230.16" width="5.5" height="5.5" fill="none" stroke="#3c8f1a" stroke-width="1.1"/>
<rect x="307.40" y="237.65" width="5.5" height="5.5" fill="none" stroke="#3c8f1a" stroke-width="1.1"/>
<rect x="317.34" y="244.10" width="5.5" height="5.5" fill="none" stroke="#3c8f1a" stroke-width="1.1"/>
<rect x="327.28" y="250.78" width="5.5" height="5.5" fill="none" stroke="#3c8f1a" stroke-width="1.1"/>
<rect x="337.22" y="254.85" width="5.5" height="5.5" fill="none" stroke="#3c8f1a" stroke-width="1.1"/>
<rect x="347.16" y="263.17" width="5.5" height="5.5" fill="none" stroke="#3c8f1a" stroke-width="1.1"/>
<rect x="357.10" y="269.09" width="5.5" height="5.5" fill="none" stroke="#3c8f1a" stroke-width="1.1"/>
<path d="M50.90,112.24 L57.50,112.24 L54.20,106.44 Z" fill="#0000ff"/>
<path d="M55.87,145.34 L62.47,145.34 L59.17,139.54 Z" fill="#0000ff"/>
<path d="M60.84,141.04 L67.44,141.04 L64.14,135.24 Z" fill="#0000ff"/>
<path d="M65.81,135.34 L72.41,135.34 L69.11,129.54 Z" fill="#0000ff"/>
<path d="M70.78,131.54 L77.38,131.54 L74.08,125.74 Z" fill="#0000ff"/>
<path d="M75.75,130.84 L82.35,130.84 L79.05,125.04 Z" fill="#0000ff"/>
<path d="M80.72,131.54 L87.32,131.54 L84.02,125.74 Z" fill="#0000ff"/>
<path d="M85.69,133.44 L92.29,133.44 L88.99,127.64 Z" fill="#0000ff"/>
<path d="M90.66,135.84 L97.26,135.84 L93.96,130.04 Z" fill="#0000ff"/>
<path d="M95.63,139.44 L102.23,139.44 L98.93,133.64 Z" fill="#0000ff"/>
<path d="M100.60,142.84 L107.20,142.84 L103.90,137.04 Z" fill="#0000ff"/>
<path d="M105.57,145.64 L112.17,145.64 L108.87,139.84 Z" fill="#0000ff"/>
<path d="M110.54,147.94 L117.14,147.94 L113.84,142.14 Z" fill="#0000ff"/>
<path d="M115.51,150.24 L122.11,150.24 L118.81,144.44 Z" fill="#0000ff"/>
<path d="M120.48,152.44 L127.08,152.44 L123.78,146.64 Z" fill="#0000ff"/>
<path d="M125.45,154.34 L132.05,154.34 L128.75,148.54 Z" fill="#0000ff"/>
<path d="M130.42,156.84 L137.02,156.84 L133.72,151.04 Z" fill="#0000ff"/>
<path d="M135.39,157.94 L141.99,157.94 L138.69,152.14 Z" fill="#0000ff"/>
<path d="M140.36,159.24 L146.96,159.24 L143.66,153.44 Z" fill="#0000ff"/>
<path d="M145.33,160.84 L151.93,160.84 L148.63,155.04 Z" fill="#0000ff"/>
<path d="M150.30,162.84 L156.90,162.84 L153.60,157.04 Z" fill="#0000ff"/>
<path d="M155.27,164.74 L161.87,164.74 L158.57,158.94 Z" fill="#0000ff"/>
<path d="M160.24,166.34 L166.84,166.34 L163.54,160.54 Z" fill="#0000ff"/>
<path d="M165.21,167.84 L171.81,167.84 L168.51,162.04 Z" fill="#0000ff"/>
<path d="M170.18,169.44 L176.78,169.44 L173.48,163.64 Z" fill="#0000ff"/>
<path d="M175.15,171.44 L181.75,171.44 L178.45,165.64 Z" fill="#0000ff"/>
<path d="M180.12,172.74 L186.72,172.74 L183.42,166.94 Z" fill="#0000ff"/>
<path d="M185.09,174.94 L191.69,174.94 L188.39,169.14 Z" fill="#0000ff"/>
<path d="M190.06,177.04 L196.66,177.04 L193.36,171.24 Z" fill="#0000ff"/>
<path d="M195.03,178.74 L201.63,178.74 L198.33,172.94 Z" fill="#0000ff"/>
<path d="M200.00,180.84 L206.60,180.84 L203.30,175.04 Z" fill="#0000ff"/>
<path d="M204.97,182.54 L211.57,182.54 L208.27,176.74 Z" fill="#0000ff"/>
<path d="M209.94,185.04 L216.54,185.04 L213.24,179.24 Z" fill="#0000ff"/>
<path d="M214.91,187.24 L221.51,187.24 L218.21,181.44 Z" fill="#0000ff"/>
<path d="M219.88,189.14 L226.48,189.14 L223.18,183.34 Z" fill="#0000ff"/>
<path d="M224.85,191.14 L231.45,191.14 L228.15,185.34 Z" fill="#0000ff"/>
<path d="M229.82,193.64 L236.42,193.64 L233.12,187.84 Z" fill="#0000ff"/>
<path d="M234.79,195.84 L241.39,195.84 L238.09,190.04 Z" fill="#0000ff"/>
<path d="M239.76,198.34 L246.36,198.34 L243.06,192.54 Z" fill="#0000ff"/>
<path d="M244.73,201.54 L251.33,201.54 L248.03,195.74 Z" fill="#0000ff"/>
<path d="M249.70,204.04 L256.30,204.04 L253.00,198.24 Z" fill="#0000ff"/>
<path d="M257.15,207.64 L263.75,207.64 L260.45,201.84 Z" fill="#0000ff"/>
<path d="M267.09,212.64 L273.69,212.64 L270.39,206.84 Z" fill="#0000ff"/>
<path d="M277.03,217.84 L283.63,217.84 L280.33,212.04 Z" fill="#0000ff"/>
<path d="M286.97,223.54 L293.57,223.54 L290.27,217.74 Z" fill="#0000ff"/>
<path d="M296.91,228.64 L303.51,228.64 L300.21,222.84 Z" fill="#0000ff"/>
<path d="M306.85,234.34 L313.45,234.34 L310.15,228.54 Z" fill="#0000ff"/>
<path d="M316.79,241.34 L323.39,241.34 L320.09,235.54 Z" fill="#0000ff"/>
<path d="M326.73,247.94 L333.33,247.94 L330.03,242.14 Z" fill="#0000ff"/>
<path d="M336.67,252.94 L343.27,252.94 L339.97,247.14 Z" fill="#0000ff"/>
<path d="M346.61,259.54 L353.21,259.54 L349.91,253.74 Z" fill="#0000ff"/>
<path d="M356.55,266.74 L363.15,266.74 L359.85,260.94 Z" fill="#0000ff"/>
<path d="M54.20,178.30 L56.90,181.70 L54.20,185.10 L51.50,181.70 Z" fill="#ff0000"/>
<path d="M59.17,165.10 L61.87,168.50 L59.17,171.90 L56.47,168.50 Z" fill="#ff0000"/>
<path d="M64.14,148.80 L66.84,152.20 L64.14,155.60 L61.44,152.20 Z" fill="#ff0000"/>
<path d="M69.11,137.30 L71.81,140.70 L69.11,144.10 L66.41,140.70 Z" fill="#ff0000"/>
<path d="M74.08,128.50 L76.78,131.90 L74.08,135.30 L71.38,131.90 Z" fill="#ff0000"/>
<path d="M79.05,122.10 L81.75,125.50 L79.05,128.90 L76.35,125.50 Z" fill="#ff0000"/>
<path d="M84.02,118.30 L86.72,121.70 L84.02,125.10 L81.32,121.70 Z" fill="#ff0000"/>
<path d="M88.99,115.80 L91.69,119.20 L88.99,122.60 L86.29,119.20 Z" fill="#ff0000"/>
<path d="M93.96,115.80 L96.66,119.20 L93.96,122.60 L91.26,119.20 Z" fill="#ff0000"/>
<path d="M98.93,116.40 L101.63,119.80 L98.93,123.20 L96.23,119.80 Z" fill="#ff0000"/>
<path d="M103.90,118.60 L106.60,122.00 L103.90,125.40 L101.20,122.00 Z" fill="#ff0000"/>
<path d="M108.87,121.50 L111.57,124.90 L108.87,128.30 L106.17,124.90 Z" fill="#ff0000"/>
<path d="M113.84,125.60 L116.54,129.00 L113.84,132.40 L111.14,129.00 Z" fill="#ff0000"/>
<path d="M118.81,130.70 L121.51,134.10 L118.81,137.50 L116.11,134.10 Z" fill="#ff0000"/>
<path d="M123.78,135.80 L126.48,139.20 L123.78,142.60 L121.08,139.20 Z" fill="#ff0000"/>
<path d="M128.75,141.50 L131.45,144.90 L128.75,148.30 L126.05,144.90 Z" fill="#ff0000"/>
<path d="M133.72,148.50 L136.42,151.90 L133.72,155.30 L131.02,151.90 Z" fill="#ff0000"/>
<path d="M138.69,155.40 L141.39,158.80 L138.69,162.20 L135.99,158.80 Z" fill="#ff0000"/>
<path d="M143.66,161.40 L146.36,164.80 L143.66,168.20 L140.96,164.80 Z" fill="#ff0000"/>
<path d="M148.63,167.80 L151.33,171.20 L148.63,174.60 L145.93,171.20 Z" fill="#ff0000"/>
<path d="M153.60,173.50 L156.30,176.90 L153.60,180.30 L150.90,176.90 Z" fill="#ff0000"/>
<path d="M158.57,178.80 L161.27,182.20 L158.57,185.60 L155.87,182.20 Z" fill="#ff0000"/>
<path d="M163.54,184.20 L166.24,187.60 L163.54,191.00 L160.84,187.60 Z" fill="#ff0000"/>
<path d="M168.51,188.00 L171.21,191.40 L168.51,194.80 L165.81,191.40 Z" fill="#ff0000"/>
<path d="M173.48,191.00 L176.18,194.40 L173.48,197.80 L170.78,194.40 Z" fill="#ff0000"/>
<path d="M178.45,194.80 L181.15,198.20 L178.45,201.60 L175.75,198.20 Z" fill="#ff0000"/>
<path d="M183.42,197.10 L186.12,200.50 L183.42,203.90 L180.72,200.50 Z" fill="#ff0000"/>
<path d="M188.39,199.40 L191.09,202.80 L188.39,206.20 L185.69,202.80 Z" fill="#ff0000"/>
<path d="M193.36,202.50 L196.06,205.90 L193.36,209.30 L190.66,205.90 Z" fill="#ff0000"/>
<path d="M198.33,204.00 L201.03,207.40 L198.33,210.80 L195.63,207.40 Z" fill="#ff0000"/>
<path d="M203.30,206.60 L206.00,210.00 L203.30,213.40 L200.60,210.00 Z" fill="#ff0000"/>
<path d="M208.27,208.50 L210.97,211.90 L208.27,215.30 L205.57,211.90 Z" fill="#ff0000"/>
<path d="M213.24,210.00 L215.94,213.40 L213.24,216.80 L210.54,213.40 Z" fill="#ff0000"/>
<path d="M218.21,212.60 L220.91,216.00 L218.21,219.40 L215.51,216.00 Z" fill="#ff0000"/>
<path d="M223.18,214.20 L225.88,217.60 L223.18,221.00 L220.48,217.60 Z" fill="#ff0000"/>
<path d="M228.15,216.10 L230.85,219.50 L228.15,222.90 L225.45,219.50 Z" fill="#ff0000"/>
<path d="M233.12,219.20 L235.82,222.60 L233.12,226.00 L230.42,222.60 Z" fill="#ff0000"/>
<path d="M238.09,220.30 L240.79,223.70 L238.09,227.10 L235.39,223.70 Z" fill="#ff0000"/>
<path d="M243.06,221.80 L245.76,225.20 L243.06,228.60 L240.36,225.20 Z" fill="#ff0000"/>
<path d="M248.03,223.30 L250.73,226.70 L248.03,230.10 L245.33,226.70 Z" fill="#ff0000"/>
<path d="M253.00,226.40 L255.70,229.80 L253.00,233.20 L250.30,229.80 Z" fill="#ff0000"/>
<path d="M260.45,228.90 L263.15,232.30 L260.45,235.70 L257.75,232.30 Z" fill="#ff0000"/>
<path d="M270.39,233.30 L273.09,236.70 L270.39,240.10 L267.69,236.70 Z" fill="#ff0000"/>
<path d="M280.33,237.60 L283.03,241.00 L280.33,244.40 L277.63,241.00 Z" fill="#ff0000"/>
<path d="M290.27,239.90 L292.97,243.30 L290.27,246.70 L287.57,243.30 Z" fill="#ff0000"/>
<path d="M300.21,244.10 L302.91,247.50 L300.21,250.90 L297.51,247.50 Z" fill="#ff0000"/>
<path d="M310.15,250.20 L312.85,253.60 L310.15,257.00 L307.45,253.60 Z" fill="#ff0000"/>
<path d="M320.09,253.10 L322.79,256.50 L320.09,259.90 L317.39,256.50 Z" fill="#ff0000"/>
<path d="M330.03,259.40 L332.73,262.80 L330.03,266.20 L327.33,262.80 Z" fill="#ff0000"/>
<path d="M339.97,263.10 L342.67,266.50 L339.97,269.90 L337.27,266.50 Z" fill="#ff0000"/>
<path d="M349.91,267.00 L352.61,270.40 L349.91,273.80 L347.21,270.40 Z" fill="#ff0000"/>
<path d="M359.85,269.30 L362.55,272.70 L359.85,276.10 L357.15,272.70 Z" fill="#ff0000"/>
</g>
<rect x="45.6" y="17.55" width="325.79999999999995" height="460.34999999999997" fill="none" stroke="#000" stroke-width="1.3"/>
<line x1="45.6" y1="317.4" x2="371.4" y2="317.4" stroke="#000" stroke-width="1.3"/>
<path d="M54.20,17.55v8.2 M54.20,317.4v-8.2 M54.20,317.4v5.2 M54.20,477.9v-5.2 M79.05,17.55v4.0 M79.05,317.4v-4.0 M79.05,317.4v2.6 M79.05,477.9v-2.6 M103.90,17.55v4.0 M103.90,317.4v-4.0 M103.90,317.4v2.6 M103.90,477.9v-2.6 M128.75,17.55v4.0 M128.75,317.4v-4.0 M128.75,317.4v2.6 M128.75,477.9v-2.6 M153.60,17.55v8.2 M153.60,317.4v-8.2 M153.60,317.4v5.2 M153.60,477.9v-5.2 M178.45,17.55v4.0 M178.45,317.4v-4.0 M178.45,317.4v2.6 M178.45,477.9v-2.6 M203.30,17.55v4.0 M203.30,317.4v-4.0 M203.30,317.4v2.6 M203.30,477.9v-2.6 M228.15,17.55v4.0 M228.15,317.4v-4.0 M228.15,317.4v2.6 M228.15,477.9v-2.6 M253.00,17.55v8.2 M253.00,317.4v-8.2 M253.00,317.4v5.2 M253.00,477.9v-5.2 M277.85,17.55v4.0 M277.85,317.4v-4.0 M277.85,317.4v2.6 M277.85,477.9v-2.6 M302.70,17.55v4.0 M302.70,317.4v-4.0 M302.70,317.4v2.6 M302.70,477.9v-2.6 M327.55,17.55v4.0 M327.55,317.4v-4.0 M327.55,317.4v2.6 M327.55,477.9v-2.6 M352.40,17.55v8.2 M352.40,317.4v-8.2 M352.40,317.4v5.2 M352.40,477.9v-5.2 M45.6,313.60h11.6 M371.4,313.60h-11.6 M45.6,298.91h5.8 M371.4,298.91h-5.8 M45.6,290.32h5.8 M371.4,290.32h-5.8 M45.6,284.22h5.8 M371.4,284.22h-5.8 M45.6,279.49h5.8 M371.4,279.49h-5.8 M45.6,275.63h5.8 M371.4,275.63h-5.8 M45.6,272.36h5.8 M371.4,272.36h-5.8 M45.6,269.53h5.8 M371.4,269.53h-5.8 M45.6,267.03h5.8 M371.4,267.03h-5.8 M45.6,264.80h11.6 M371.4,264.80h-11.6 M45.6,250.11h5.8 M371.4,250.11h-5.8 M45.6,241.52h5.8 M371.4,241.52h-5.8 M45.6,235.42h5.8 M371.4,235.42h-5.8 M45.6,230.69h5.8 M371.4,230.69h-5.8 M45.6,226.83h5.8 M371.4,226.83h-5.8 M45.6,223.56h5.8 M371.4,223.56h-5.8 M45.6,220.73h5.8 M371.4,220.73h-5.8 M45.6,218.23h5.8 M371.4,218.23h-5.8 M45.6,216.00h11.6 M371.4,216.00h-11.6 M45.6,201.31h5.8 M371.4,201.31h-5.8 M45.6,192.72h5.8 M371.4,192.72h-5.8 M45.6,186.62h5.8 M371.4,186.62h-5.8 M45.6,181.89h5.8 M371.4,181.89h-5.8 M45.6,178.03h5.8 M371.4,178.03h-5.8 M45.6,174.76h5.8 M371.4,174.76h-5.8 M45.6,171.93h5.8 M371.4,171.93h-5.8 M45.6,169.43h5.8 M371.4,169.43h-5.8 M45.6,167.20h11.6 M371.4,167.20h-11.6 M45.6,152.51h5.8 M371.4,152.51h-5.8 M45.6,143.92h5.8 M371.4,143.92h-5.8 M45.6,137.82h5.8 M371.4,137.82h-5.8 M45.6,133.09h5.8 M371.4,133.09h-5.8 M45.6,129.23h5.8 M371.4,129.23h-5.8 M45.6,125.96h5.8 M371.4,125.96h-5.8 M45.6,123.13h5.8 M371.4,123.13h-5.8 M45.6,120.63h5.8 M371.4,120.63h-5.8 M45.6,118.40h11.6 M371.4,118.40h-11.6 M45.6,103.71h5.8 M371.4,103.71h-5.8 M45.6,95.12h5.8 M371.4,95.12h-5.8 M45.6,89.02h5.8 M371.4,89.02h-5.8 M45.6,84.29h5.8 M371.4,84.29h-5.8 M45.6,80.43h5.8 M371.4,80.43h-5.8 M45.6,77.16h5.8 M371.4,77.16h-5.8 M45.6,74.33h5.8 M371.4,74.33h-5.8 M45.6,71.83h5.8 M371.4,71.83h-5.8 M45.6,69.60h11.6 M371.4,69.60h-11.6 M45.6,54.91h5.8 M371.4,54.91h-5.8 M45.6,46.32h5.8 M371.4,46.32h-5.8 M45.6,40.22h5.8 M371.4,40.22h-5.8 M45.6,35.49h5.8 M371.4,35.49h-5.8 M45.6,31.63h5.8 M371.4,31.63h-5.8 M45.6,28.36h5.8 M371.4,28.36h-5.8 M45.6,25.53h5.8 M371.4,25.53h-5.8 M45.6,23.03h5.8 M371.4,23.03h-5.8 M45.6,20.80h11.6 M371.4,20.80h-11.6 M45.6,477.74h5.0 M371.4,477.74h-5.0 M45.6,458.15h7.5 M371.4,458.15h-7.5 M45.6,442.14h5.0 M371.4,442.14h-5.0 M45.6,428.61h5.0 M371.4,428.61h-5.0 M45.6,416.89h5.0 M371.4,416.89h-5.0 M45.6,406.55h5.0 M371.4,406.55h-5.0 M45.6,397.30h7.5 M371.4,397.30h-7.5 M45.6,388.93h5.0 M371.4,388.93h-5.0 M45.6,381.29h5.0 M371.4,381.29h-5.0 M45.6,374.27h5.0 M371.4,374.27h-5.0 M45.6,367.76h5.0 M371.4,367.76h-5.0 M45.6,361.71h5.0 M371.4,361.71h-5.0 M45.6,356.04h5.0 M371.4,356.04h-5.0 M45.6,350.72h5.0 M371.4,350.72h-5.0 M45.6,345.70h5.0 M371.4,345.70h-5.0 M45.6,340.95h5.0 M371.4,340.95h-5.0 M45.6,336.45h7.5 M371.4,336.45h-7.5 M45.6,332.17h5.0 M371.4,332.17h-5.0 M45.6,328.08h5.0 M371.4,328.08h-5.0 M45.6,324.18h5.0 M371.4,324.18h-5.0 M45.6,320.44h5.0 M371.4,320.44h-5.0" stroke="#000" stroke-width="1" fill="none"/>
<text x="51" y="13.7" font-size="12" text-anchor="start" fill="#000">2360 GeV pp</text>
<text x="365.6" y="13.4" font-size="11.7" text-anchor="end" fill="#000">Soft QCD</text>
<text x="81.4" y="42.1" font-size="11.8" text-anchor="start" fill="#000" letter-spacing="0.06">Charged multiplicity, <tspan dx="3">|</tspan><tspan dx="-3.6">η</tspan><tspan dx="-0.8">|</tspan>&lt;1.3 ,√s=2.36 TeV (INEL)</text>
<text x="39.8" y="24.8" font-size="10.5" text-anchor="end" fill="#000">10</text>
<text x="39.4" y="73.7" font-size="10.5" text-anchor="end" fill="#000">1</text>
<text y="123.7" font-size="10.5" text-anchor="end" x="39.5">10<tspan font-size="7.2" dy="-4.2">−1</tspan></text>
<text y="172.9" font-size="10.5" text-anchor="end" x="39.5">10<tspan font-size="7.2" dy="-4.2">−2</tspan></text>
<text y="221.1" font-size="10.5" text-anchor="end" x="39.5">10<tspan font-size="7.2" dy="-4.2">−3</tspan></text>
<text y="270.0" font-size="10.5" text-anchor="end" x="39.5">10<tspan font-size="7.2" dy="-4.2">−4</tspan></text>
<text y="318.0" font-size="10.5" text-anchor="end" x="39.5">10<tspan font-size="7.2" dy="-4.2">−5</tspan></text>
<text x="38.2" y="341.4" font-size="10.8" text-anchor="end" fill="#000">2</text>
<text x="373.5" y="341.4" font-size="10.8" text-anchor="start" fill="#000">2</text>
<text x="38.2" y="402.9" font-size="10.8" text-anchor="end" fill="#000">1</text>
<text x="373.5" y="402.9" font-size="10.8" text-anchor="start" fill="#000">1</text>
<text x="22.0" y="462.4" font-size="10.8" text-anchor="start" fill="#000" letter-spacing="0.6">0.5</text>
<text x="374.1" y="462.4" font-size="10.8" text-anchor="start" fill="#000" letter-spacing="0.6">0.5</text>
<text x="54.20" y="489.3" font-size="10.8" text-anchor="middle" fill="#000">0</text>
<text x="153.60" y="489.3" font-size="10.8" text-anchor="middle" fill="#000">20</text>
<text x="253.00" y="489.3" font-size="10.8" text-anchor="middle" fill="#000">40</text>
<text x="352.40" y="489.3" font-size="10.8" text-anchor="middle" fill="#000">60</text>
<text x="354.5" y="502.5" font-size="11.5">N<tspan font-size="8" dy="4">ch</tspan></text>
<text transform="translate(15.2,59.3) rotate(-90)" font-size="12.1">dN/dN<tspan font-size="6.8" dy="3.4">ch</tspan></text>
<text transform="translate(18.1,426) rotate(-90)" font-size="9">Ratio to ALICE</text>
<text transform="translate(380.3,128) rotate(-90)" font-size="9.5" fill="#666">Rivet 4.1.0, ≥ 2.2M events</text>
<text transform="translate(381.2,313.7) rotate(-90)" font-size="9.5" fill="#666">mcplots.cern.ch [arXiv:2401.10621]</text>
<text x="167" y="302.1" font-size="7.8" text-anchor="start" fill="#a0a0a0">(ALICE_2010_I852450)</text>
<rect x="73.50" y="231.10" width="5.6" height="5.6" fill="#000"/>
<text x="94.4" y="237.4" font-size="9.3" text-anchor="start" fill="#000">ALICE</text>
<line x1="63.8" y1="246.9" x2="88.0" y2="246.9" stroke="#3c8f1a" stroke-width="0.8" stroke-dasharray="3.2,2.0"/>
<rect x="73.3" y="243.9" width="6" height="6" fill="#fff"/>
<rect x="73.55" y="244.15" width="5.5" height="5.5" fill="none" stroke="#3c8f1a" stroke-width="1.1"/>
<text x="94.4" y="250.2" font-size="9.3" text-anchor="start" fill="#000">Herwig 7.2.1 default</text>
<line x1="63.8" y1="259.6" x2="88.0" y2="259.6" stroke="#0000ff" stroke-width="0.8"/>
<path d="M73.60,261.66 L79.00,261.66 L76.30,256.76 Z" fill="#0000ff"/>
<text x="94.4" y="262.9" font-size="9.3" text-anchor="start" fill="#000">Pythia 8.315 default</text>
<line x1="63.8" y1="272.7" x2="88.0" y2="272.7" stroke="#ff0000" stroke-width="0.8" stroke-dasharray="1,1.6"/>
<path d="M76.30,269.80 L78.50,272.70 L76.30,275.60 L74.10,272.70 Z" fill="#ff0000"/>
<text x="94.4" y="276.0" font-size="9.3" text-anchor="start" fill="#000">Sherpa 2.2.9 default</text>
</svg></body></html>
